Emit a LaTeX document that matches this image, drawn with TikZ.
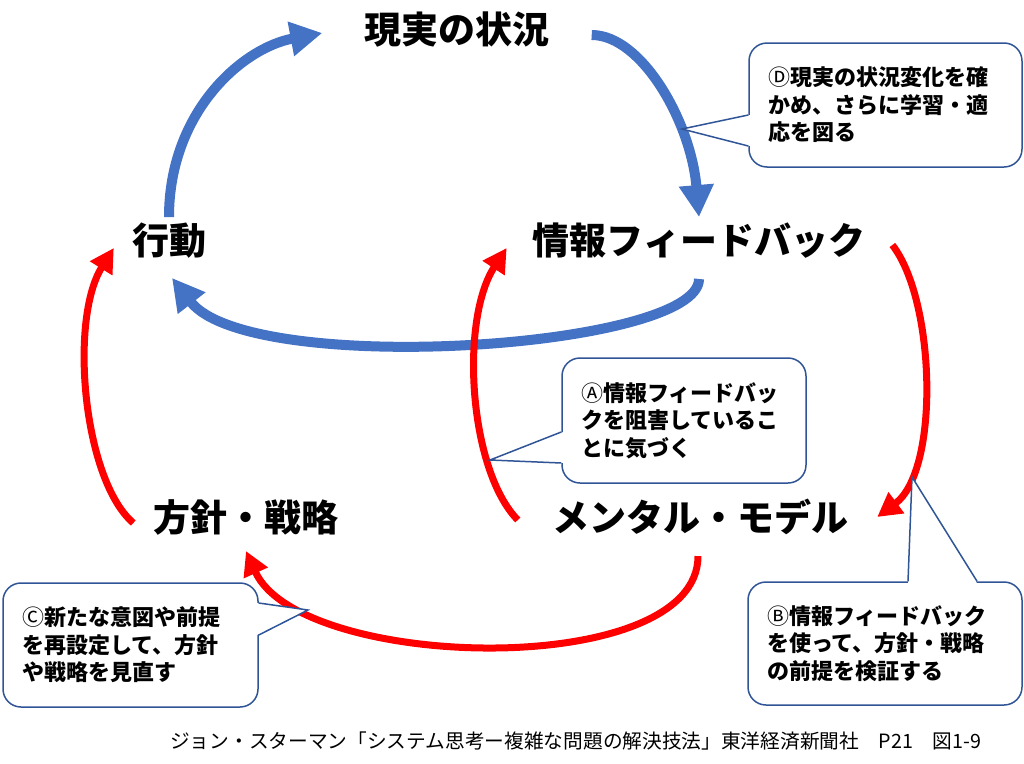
\documentclass[tikz,border=0pt]{standalone}
\usepackage{fontspec}
\setmainfont{Noto Sans CJK JP}
\usepackage{tikz}
\usetikzlibrary{arrows.meta}
\definecolor{fbblue}{HTML}{4472C4}
\definecolor{loopred}{HTML}{FF0000}
\definecolor{noteline}{HTML}{2F5597}

\begin{document}
\begin{tikzpicture}[x=1pt,y=-1pt,
    lbl/.style={inner sep=0pt, font=\fontsize{37}{37}\selectfont\bfseries},
    bluearc/.style={line width=10pt, draw=fbblue, -{Triangle[length=32pt,width=33pt]}},
    redarc/.style={line width=7pt, draw=loopred, -{Triangle[length=24pt,width=25pt]}},
    note/.style={draw=noteline, line width=1.5pt, fill=white, rounded corners=18pt,
        align=left, inner xsep=19pt, font=\fontsize{22}{27.5}\selectfont\bfseries},
    notetail/.style={draw=noteline, line width=1.5pt}]
  \useasboundingbox (0,0) rectangle (1024,763);

  % loop labels
  \node[lbl] (real) at (457,30) {現実の状況};
  \node[lbl] (act) at (169,241) {行動};
  \node[lbl] (info) at (699,241) {情報フィードバック};
  \node[lbl] (pol) at (246,517) {方針・戦略};
  \node[lbl] (mm) at (700,517) {メンタル・モデル};

  % blue loop
  \draw[bluearc] ([yshift=6pt]act.north) .. controls +(0,-105) and +(-80,15) .. ([xshift=-42pt,yshift=-3pt]real.west);
  \draw[bluearc] ([xshift=42pt,yshift=-5pt]real.east) .. controls +(50,0) and +(-8,-95) .. ([yshift=6pt]info.north);
  \draw[bluearc] ([yshift=-20pt]info.south) .. controls +(0,70) and +(78,100) .. ([xshift=3pt,yshift=-19pt]act.south);

  % red loop
  \draw[redarc] ([xshift=-20pt,yshift=-6pt]pol.west) .. controls +(-50,-43) and +(-45,72) .. ([xshift=-18pt,yshift=-7pt]act.west);
  \draw[redarc] ([xshift=-34pt,yshift=-3pt]mm.west) .. controls +(-49,-50) and +(-47,72) .. ([xshift=-26pt,yshift=-7pt]info.west);
  \draw[redarc] ([xshift=27pt,yshift=-4pt]info.east) .. controls +(43,55) and +(63,-47) .. ([xshift=29pt]mm.east);
  \draw[redarc] ([xshift=-2pt,yshift=-21pt]mm.south) .. controls +(0,125) and +(54,120) .. ([yshift=-16pt]pol.south);

  % callouts
  \coordinate (tipD) at (682,129);
  \coordinate (tipA) at (490,460);
  \coordinate (tipB) at (912,477);
  \coordinate (tipC) at (308,610);

  \node[note, minimum width=273pt, minimum height=124pt, text width=235pt] (noteD) at (885.5,105)
    {{\mdseries Ⓓ}現実の状況変化を確\\かめ、さらに学習・適\\応を図る};
  \fill[white] ([xshift=2pt,yshift=-10pt]noteD.west) -- (tipD) -- ([xshift=2pt,yshift=-41pt]noteD.west) -- cycle;
  \draw[notetail] ([yshift=-10pt]noteD.west) -- (tipD) -- ([yshift=-41pt]noteD.west);

  \node[note, minimum width=244pt, minimum height=125pt, text width=206pt] (noteA) at (684,420.5)
    {{\mdseries Ⓐ}情報フィードバッ\\クを阻害しているこ\\とに気づく};
  \fill[white] ([xshift=2pt,yshift=-11.5pt]noteA.west) -- (tipA) -- ([xshift=2pt,yshift=-42.5pt]noteA.west) -- cycle;
  \draw[notetail] ([yshift=-11.5pt]noteA.west) -- (tipA) -- ([yshift=-42.5pt]noteA.west);

  \node[note, minimum width=274pt, minimum height=123pt, text width=236pt] (noteB) at (885,643.5)
    {{\mdseries Ⓑ}情報フィードバック\\を使って、方針・戦略\\の前提を検証する};
  \fill[white] ([xshift=23pt,yshift=-2pt]noteB.north) -- (tipB) -- ([xshift=92pt,yshift=-2pt]noteB.north) -- cycle;
  \draw[notetail] ([xshift=23pt]noteB.north) -- (tipB) -- ([xshift=92pt]noteB.north);

  \node[note, minimum width=255pt, minimum height=124pt, text width=217pt] (noteC) at (130.5,645)
    {{\mdseries Ⓒ}新たな意図や前提\\を再設定して、方針\\や戦略を見直す};
  \fill[white] ([xshift=-2pt,yshift=42pt]noteC.east) -- (tipC) -- ([xshift=-2pt,yshift=10pt]noteC.east) -- cycle;
  \draw[notetail] ([yshift=42pt]noteC.east) -- (tipC) -- ([yshift=10pt]noteC.east);

  % source
  \node[anchor=west, inner sep=0pt, font=\fontsize{19.7}{19.7}\selectfont] (src) at (170,741)
    {ジョン・スターマン「システム思考ー複雑な問題の解決技法」東洋経済新聞社　P21　図1-9};
\end{tikzpicture}
\end{document}
